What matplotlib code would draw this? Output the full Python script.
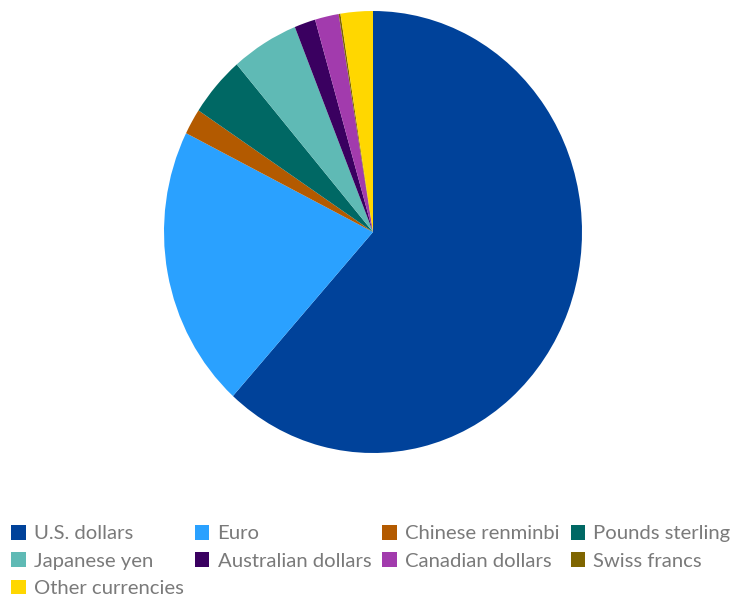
import matplotlib
matplotlib.use("Agg")
import matplotlib.pyplot as plt

categories = ["U.S. dollars", "Euro", "Chinese renminbi", "Pounds sterling",
              "Japanese yen", "Australian dollars", "Canadian dollars",
              "Swiss francs", "Other currencies"]
shares = [61.69, 20.69, 1.89, 4.43, 5.20, 1.63, 1.84, 0.14, 2.49]
colors = ["#00429a", "#2aa1ff", "#b35a00", "#006864", "#5fbab5",
          "#3a0060", "#a23bad", "#7f6500", "#ffd700"]

plt.rcParams['font.family'] = ['Lato', 'DejaVu Sans']

W, H = 736, 597
fig = plt.figure(figsize=(W / 100, H / 100), dpi=100)
cx, cy, rx, ry = 373, 232, 209, 221
ax = fig.add_axes([(cx - rx) / W, (H - cy - ry) / H, 2 * rx / W, 2 * ry / H])
wedges, _ = ax.pie(shares, colors=colors, startangle=90, counterclock=False,
                   radius=1, wedgeprops=dict(linewidth=0))
ax.set_aspect('auto')
ax.set_xlim(-1, 1)
ax.set_ylim(-1, 1)
ax.axis('off')

# legend fills column by column; reorder so it reads row by row (4 per row)
order = [0, 4, 8, 1, 5, 2, 6, 3, 7]
leg = fig.legend([wedges[i] for i in order], [categories[i] for i in order],
                 ncol=4, loc='upper left',
                 bbox_to_anchor=(5 / W, 1 - 519 / H), frameon=False,
                 prop=dict(family=['Lato', 'DejaVu Sans'], size=14.6),
                 handlelength=0.72, handleheight=0.72,
                 handletextpad=0.4, columnspacing=0.55, labelspacing=0.49,
                 borderaxespad=0, borderpad=0.3)
for t in leg.get_texts():
    t.set_color("#7a7a7a")

fig.savefig("out.png", dpi=100)
